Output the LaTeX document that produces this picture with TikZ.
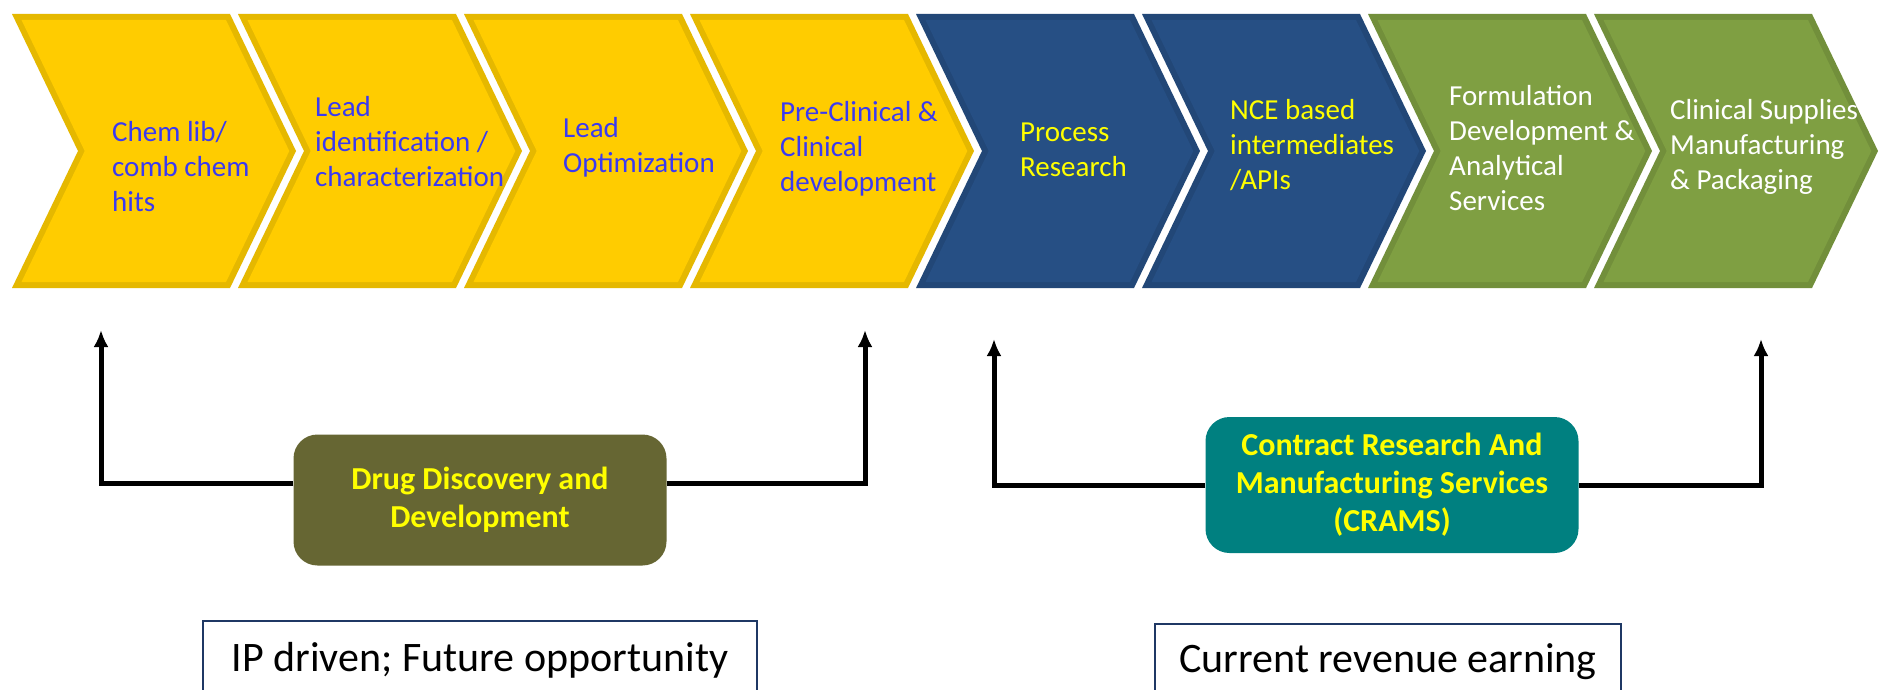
\documentclass[tikz,border=0pt]{standalone}
\usepackage{fontspec}
\setmainfont{Carlito}
\usetikzlibrary{arrows.meta,calc,positioning}

\definecolor{chevyellow}{HTML}{FFCC00}
\definecolor{chevblue}{HTML}{264F84}
\definecolor{chevgreen}{HTML}{7F9F42}
\definecolor{stepblue}{HTML}{3A3AF2}
\definecolor{boxyellow}{HTML}{FFFF00}
\definecolor{olivebox}{HTML}{666633}
\definecolor{tealbox}{HTML}{008080}
\definecolor{notenavy}{HTML}{1F3864}

\begin{document}
\begin{tikzpicture}[x=1pt,y=-1pt,
    steptext/.style={anchor=west, align=left, inner sep=0pt, font=\fontsize{29}{35}\selectfont},
    groupbox/.style={rectangle, rounded corners=24pt, minimum width=373pt, align=center, text=boxyellow, font=\fontsize{32}{38}\selectfont\bfseries},
    notebox/.style={rectangle, draw=notenavy, line width=1.5pt, anchor=north, font=\fontsize{42}{50}\selectfont},
    conn/.style={line width=5pt, -{Latex[length=17pt,width=15pt]}}]

    \useasboundingbox (0,0) rectangle (1879,690);
    \fill[white] (0,0) rectangle (1879,690);

    % chevrons
    \foreach \i/\col in {0/chevyellow,1/chevyellow,2/chevyellow,3/chevyellow,4/chevblue,5/chevblue,6/chevgreen,7/chevgreen}{
      \pgfmathsetmacro\l{12+226*\i}
      \fill[\col!90!black] (\l,14) -- ++(218,0) -- ++(66,137) -- ++(-66,137) -- ++(-218,0) -- ++(66,-137) -- cycle;
      \fill[\col] (\l+9.5,20) -- (\l+214,20) -- (\l+277.3,151) -- (\l+214,282) -- (\l+9.5,282) -- (\l+72.7,151) -- cycle;
    }

    % step labels
    \node(chem) [steptext, text=stepblue] at (112,167) {Chem lib/\\comb chem\\hits};
    \node(leadid) [steptext, text=stepblue] at (315,142) {Lead\\identification /\\characterization};
    \node(leadopt) [steptext, text=stepblue] at (563,147) {Lead\\Optimization};
    \node(preclin) [steptext, text=stepblue] at (780,149) {Pre-Clinical \&\\Clinical\\development};
    \node(process) [steptext, text=boxyellow] at (1020,150) {Process\\Research};
    \node(nce) [steptext, text=boxyellow] at (1230,145) {NCE based\\intermediates\\/APIs};
    \node(formul) [steptext, text=white] at (1449,148) {Formulation\\Development \&\\Analytical\\Services};
    \node(supply) [steptext, text=white] at (1670,147) {Clinical Supplies\\Manufacturing\\\& Packaging};

    % groups
    \node(drug) [groupbox, fill=olivebox, minimum height=131pt] at (480,500) {Drug Discovery and\\Development};
    \node(crams) [groupbox, fill=tealbox, minimum height=136pt] at (1392,485) {Contract Research And\\Manufacturing Services\\(CRAMS)};

    \coordinate(dl) at (101,483);
    \coordinate(dltip) at (101,330);
    \coordinate(dr) at (865,483);
    \coordinate(drtip) at (865,330);
    \coordinate(cl) at (994,485);
    \coordinate(cltip) at (994,339);
    \coordinate(cr) at (1761,485);
    \coordinate(crtip) at (1761,339);

    \draw[conn] (drug.west |- dl) -- (dl) -- (dltip);
    \draw[conn] (drug.east |- dr) -- (dr) -- (drtip);
    \draw[conn] (crams.west |- cl) -- (cl) -- (cltip);
    \draw[conn] (crams.east |- cr) -- (cr) -- (crtip);

    % notes
    \node(ip) [notebox, minimum width=554pt, minimum height=80pt] at (480,620) {IP driven; Future opportunity};
    \node(revenue) [notebox, minimum width=466pt, minimum height=76pt] at (1388,623) {Current revenue earning};
\end{tikzpicture}
\end{document}
